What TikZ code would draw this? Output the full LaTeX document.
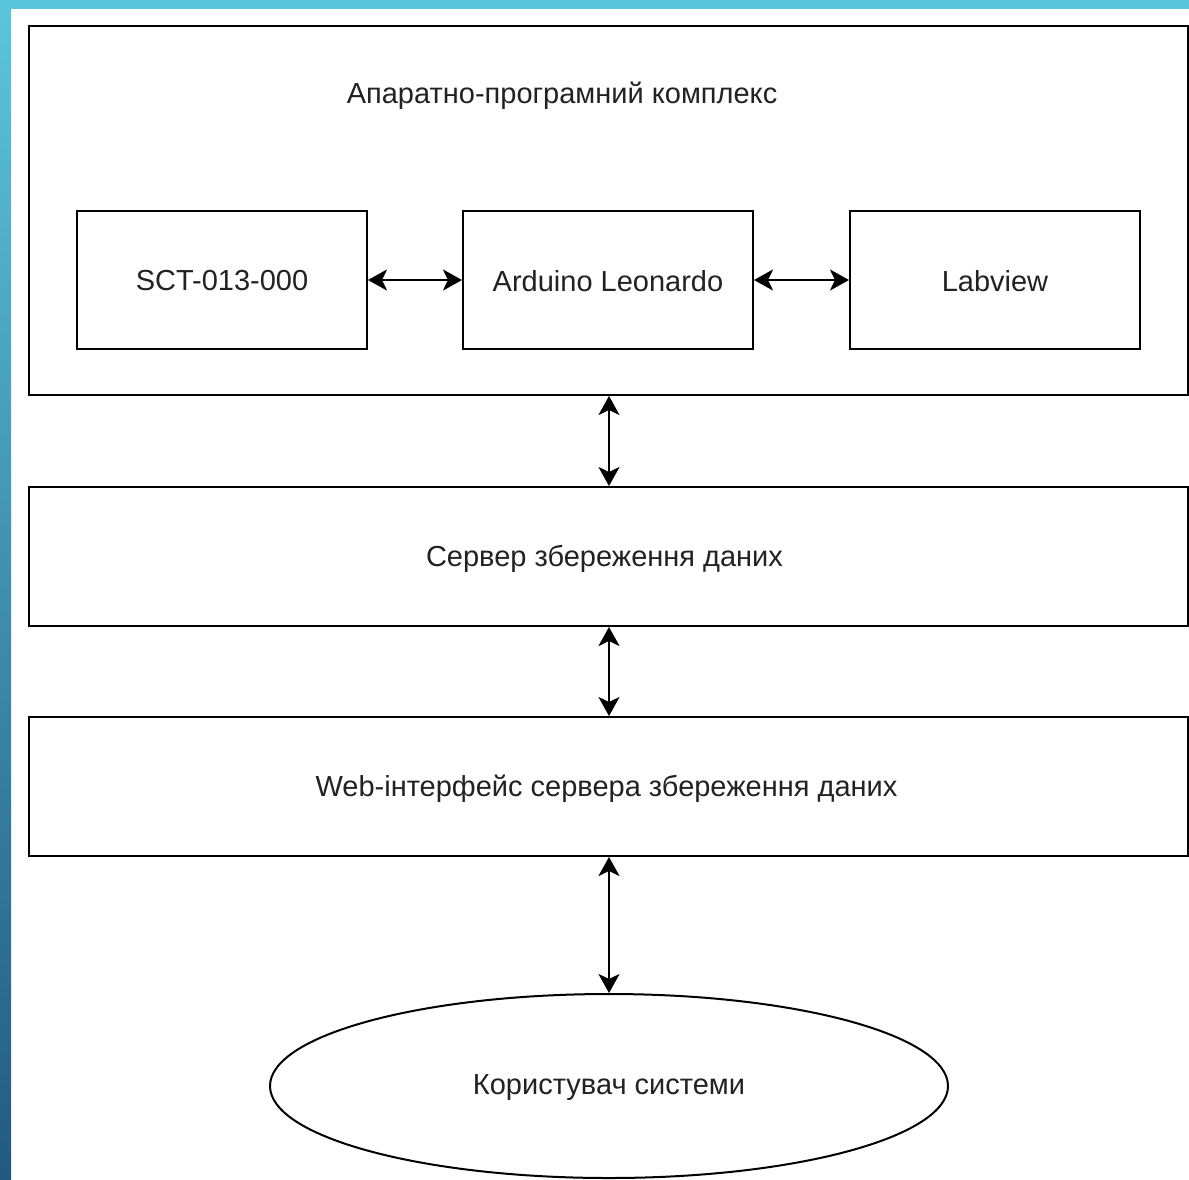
\documentclass[tikz,border=0pt]{standalone}
\usepackage{fontspec}
\setmainfont{Liberation Sans}
\usetikzlibrary{arrows.meta,shapes.geometric}
\definecolor{bandtop}{HTML}{5BC5DB}
\definecolor{bandbot}{HTML}{225A80}
\definecolor{txt}{HTML}{222222}
\tikzset{
  x=1pt,y=-1pt,
  frame/.style={draw=black,line width=2pt,inner sep=0pt},
  lbl/.style={text=txt,font=\fontsize{29}{32}\selectfont,inner sep=0pt},
  tip/.tip={Stealth[length=19pt,width=21pt,inset=5pt]},
  link/.style={line width=2.4pt,tip-tip}
}
\begin{document}
\begin{tikzpicture}
\useasboundingbox (0,0) rectangle (1189,1179);
\fill[white] (0,0) rectangle (1189,1179);
\fill[bandtop] (0,0) rectangle (1189,9);
\shade[top color=bandtop,bottom color=bandbot] (0,0) rectangle (11,1179);
% outer box
\node[frame,minimum width=1159pt,minimum height=369pt] (hw) at (608.5,210.5) {};
\node[lbl] (title) at (562,96) {Апаратно-програмний комплекс};
\node[frame,minimum width=290pt,minimum height=138pt] (sct) at (222,280) {};
\node[frame,minimum width=290pt,minimum height=138pt] (ard) at (608,280) {};
\node[frame,minimum width=290pt,minimum height=138pt] (lab) at (995,280) {};
\node[frame,minimum width=1159pt,minimum height=139pt] (srv) at (608.5,556.5) {};
\node[frame,minimum width=1159pt,minimum height=139pt] (web) at (608.5,786.5) {};
\node[ellipse,frame,minimum width=678pt,minimum height=184pt] (user) at (609,1086) {};
\node[lbl] (tsct) at ([yshift=-1pt]sct.center) {SCT-013-000};
\node[lbl] (tard) at ([yshift=-1pt]ard.center) {Arduino Leonardo};
\node[lbl] (tlab) at ([yshift=-1pt]lab.center) {Labview};
\node[lbl] (tsrv) at ([xshift=-4pt,yshift=-2pt]srv.center) {Сервер збереження даних};
\node[lbl] (tweb) at ([xshift=-2pt,yshift=-2pt]web.center) {Web-інтерфейс сервера збереження даних};
\node[lbl] (tuser) at ([yshift=-2pt]user.center) {Користувач системи};
\draw[link] (sct.east) -- (ard.west);
\draw[link] (ard.east) -- (lab.west);
\draw[link] (hw.south -| user.north) -- (srv.north -| user.north);
\draw[link] (srv.south -| user.north) -- (web.north -| user.north);
\draw[link] (web.south -| user.north) -- (user.north);
\end{tikzpicture}
\end{document}
